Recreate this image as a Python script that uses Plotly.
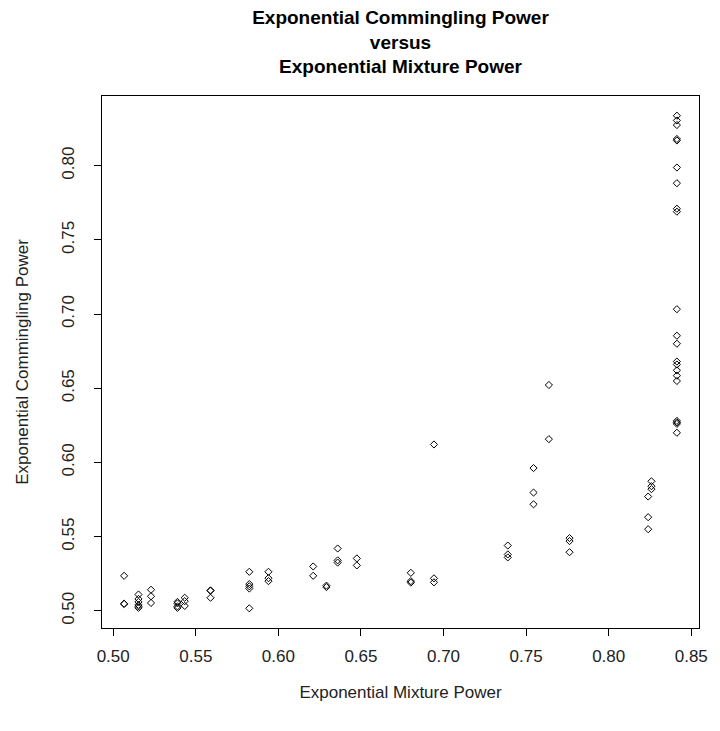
import plotly.graph_objects as go

# Exponential Mixture Power (x) and Exponential Commingling Power (y)
mixture_power = (
    [0.5066] * 3 + [0.5153] * 6 + [0.5229] * 3 + [0.5389] * 4 + [0.5433] * 3
    + [0.5589] * 3 + [0.5824] * 5 + [0.5940] * 3 + [0.6211] * 2 + [0.6291] * 2
    + [0.6359] * 3 + [0.6475] * 2 + [0.6802] * 3 + [0.6942] * 3 + [0.7389] * 3
    + [0.7545] * 3 + [0.7638] * 2 + [0.7763] * 3 + [0.8239] * 3 + [0.8259] * 3
    + [0.8413] * 21
)
commingling_power = [
    0.5236, 0.5048, 0.5046,
    0.511, 0.508, 0.506, 0.504, 0.503, 0.502,
    0.5142, 0.5098, 0.5053,
    0.506, 0.505, 0.503, 0.502,
    0.5088, 0.5065, 0.5033,
    0.5138, 0.5135, 0.5088,
    0.5263, 0.518, 0.5165, 0.515, 0.5017,
    0.5263, 0.522, 0.520,
    0.5299, 0.5236,
    0.517, 0.516,
    0.542, 0.534, 0.5325,
    0.5353, 0.5306,
    0.5256, 0.520, 0.519,
    0.6121, 0.5219, 0.5192,
    0.5440, 0.538, 0.536,
    0.5962, 0.5797, 0.5718,
    0.6522, 0.6157,
    0.549, 0.547, 0.5395,
    0.577, 0.5631, 0.5550,
    0.5873, 0.584, 0.582,
    0.8337, 0.8305, 0.8274, 0.818, 0.817, 0.7988, 0.7882, 0.771, 0.769,
    0.7033, 0.6854, 0.6800, 0.668, 0.666, 0.6621, 0.6585, 0.6549,
    0.628, 0.627, 0.626, 0.6200,
]

x_ticks = [0.50, 0.55, 0.60, 0.65, 0.70, 0.75, 0.80, 0.85]
y_ticks = [0.50, 0.55, 0.60, 0.65, 0.70, 0.75, 0.80]

def r_range(v):
    lo, hi = min(v), max(v)
    ext = 0.04 * (hi - lo)
    return [lo - ext, hi + ext]

FONT = "Liberation Sans, Arial, sans-serif"
TXT = "#222222"

fig = go.Figure(
    go.Scatter(
        x=mixture_power,
        y=commingling_power,
        mode="markers",
        marker=dict(symbol="diamond-open", size=5.5, color="black",
                    line=dict(width=1, color="black")),
        hoverinfo="x+y",
    )
)

fig.update_layout(
    width=720,
    height=731,
    margin=dict(l=102, r=14, t=96, b=103),
    paper_bgcolor="white",
    plot_bgcolor="white",
    showlegend=False,
    font=dict(family=FONT, size=17, color=TXT),
    title=dict(
        text="Exponential Commingling Power<br>versus<br>Exponential Mixture Power",
        font=dict(family=FONT, size=19, color="black", weight="bold"),
        x=0.5, xref="paper", xanchor="center",
        y=1 - 24 / 731, yref="container", yanchor="top",
    ),
)

fig.update_xaxes(
    range=r_range(mixture_power),
    tickvals=x_ticks,
    ticktext=[f"{v:.2f}" for v in x_ticks],
    ticks="outside", ticklen=7, tickwidth=1, tickcolor="black",
    showline=True, mirror=True, linecolor="black", linewidth=1,
    showgrid=False, zeroline=False,
    tickfont=dict(size=17, color=TXT),
    ticklabelstandoff=6,
    title=dict(text="Exponential Mixture Power", standoff=20,
               font=dict(size=17, color=TXT)),
)
fig.update_yaxes(
    range=r_range(commingling_power),
    tickvals=y_ticks,
    ticktext=[f"{v:.2f}" for v in y_ticks],
    tickangle=-90,
    ticks="outside", ticklen=7, tickwidth=1, tickcolor="black",
    showline=True, mirror=True, linecolor="black", linewidth=1,
    showgrid=False, zeroline=False,
    tickfont=dict(size=17, color=TXT),
    ticklabelstandoff=13,
    title=dict(text="Exponential Commingling Power", standoff=26,
               font=dict(size=17, color=TXT)),
)

fig.write_html("out.html")
